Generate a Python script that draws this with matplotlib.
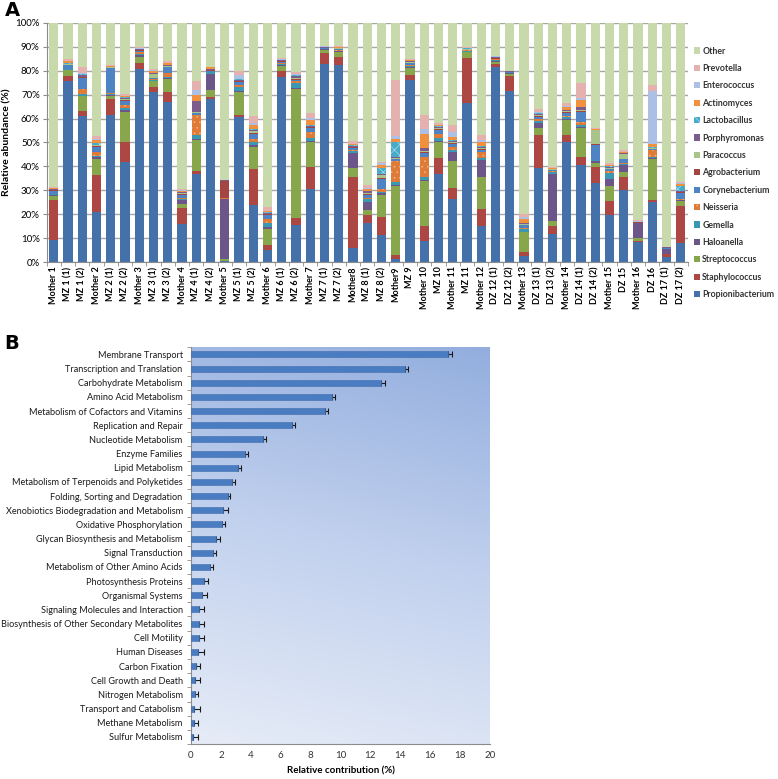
import numpy as np
import matplotlib.pyplot as plt
from matplotlib.ticker import FixedLocator, PercentFormatter
from matplotlib.colors import LinearSegmentedColormap

plt.rcParams['font.family'] = ['Lato', 'DejaVu Sans']
plt.rcParams['hatch.linewidth'] = 0.5

# ---------------------------------------------------------------- panel A data
samples = ['Mother 1', 'MZ 1 (1)', 'MZ 1 (2)', 'Mother 2', 'MZ 2 (1)', 'MZ 2 (2)',
           'Mother 3', 'MZ 3 (1)', 'MZ 3 (2)', 'Mother 4', 'MZ 4 (1)', 'MZ 4 (2)',
           'Mother 5', 'MZ 5 (1)', 'MZ 5 (2)', 'Mother 6', 'MZ 6 (1)', 'MZ 6 (2)',
           'Mother 7', 'MZ 7 (1)', 'MZ 7 (2)', 'Mother8', 'MZ 8 (1)', 'MZ 8 (2)',
           'Mother9', 'MZ 9', 'Mother 10', 'MZ 10', 'Mother 11', 'MZ 11',
           'Mother 12', 'DZ 12 (1)', 'DZ 12 (2)', 'Mother 13', 'DZ 13 (1)', 'DZ 13 (2)',
           'Mother 14', 'DZ 14 (1)', 'DZ 14 (2)', 'Mother 15', 'DZ 15', 'Mother 16',
           'DZ 16', 'DZ 17 (1)', 'DZ 17 (2)']

propionibacterium = [9.3, 75.8, 61.2, 21.0, 61.5, 42.0, 80.5, 71.0, 67.0, 16.0, 37.0, 68.0,
                     0.5, 60.5, 23.7, 5.0, 77.2, 15.6, 30.6, 82.6, 82.3, 5.8, 16.3, 11.4,
                     1.3, 76.1, 8.8, 36.7, 26.4, 66.3, 15.2, 81.6, 71.5, 2.8, 39.2, 11.7,
                     50.3, 40.6, 33.2, 19.7, 30.2, 8.3, 25.3, 2.4, 8.2]
staphylococcus = [16.5, 2.0, 1.9, 15.5, 6.6, 8.3, 2.8, 2.2, 4.0, 6.5, 1.0, 1.0,
                  0.1, 1.0, 15.3, 2.2, 2.6, 3.0, 9.2, 4.6, 3.5, 29.8, 3.4, 7.6,
                  1.7, 2.1, 6.2, 6.7, 4.8, 18.8, 6.9, 1.0, 6.2, 1.7, 13.9, 3.6,
                  2.8, 3.5, 6.4, 5.9, 5.5, 0.6, 0.7, 0.9, 15.3]
streptococcus = [1.9, 2.3, 6.2, 6.5, 1.2, 12.4, 2.2, 2.3, 5.5, 2.0, 13.0, 3.0,
                 0.8, 9.5, 9.0, 6.6, 2.1, 53.7, 10.5, 1.5, 2.1, 3.6, 2.1, 9.1,
                 29.0, 3.0, 19.0, 6.9, 11.2, 2.5, 13.6, 1.1, 1.0, 8.0, 2.8, 2.1,
                 6.3, 11.8, 2.0, 6.2, 2.1, 1.1, 17.1, 0.2, 2.1]
haloanella = [0.3, 0.2, 0.3, 0.8, 0.6, 0.8, 1.0, 0.3, 0.3, 1.5, 0.3, 6.5,
              25.1, 0.4, 1.0, 0.8, 0.5, 0.6, 0.5, 0.2, 0.2, 6.3, 3.5, 0.9,
              0.3, 0.4, 0.3, 0.3, 3.5, 0.3, 7.0, 0.2, 0.2, 0.3, 2.4, 19.3,
              0.5, 0.4, 0.6, 3.0, 2.8, 6.3, 0.4, 2.0, 0.3]
gemella = [0.4, 0.3, 0.5, 0.4, 0.4, 1.0, 0.5, 0.4, 0.4, 0.6, 1.7, 0.8,
           0.1, 1.6, 1.0, 1.7, 0.5, 1.8, 1.2, 0.2, 0.2, 0.8, 1.0, 0.3,
           1.4, 0.5, 1.2, 1.1, 1.0, 0.3, 1.0, 0.6, 0.2, 1.2, 0.8, 0.8,
           0.8, 0.8, 0.3, 2.5, 0.4, 0.1, 0.3, 0.1, 0.3]
neisseria = [0.2, 0.2, 2.3, 2.0, 0.2, 1.2, 0.6, 0.3, 1.8, 0.4, 8.5, 0.3,
             0.1, 0.8, 1.5, 1.7, 0.3, 0.9, 2.5, 0.1, 0.4, 0.6, 0.6, 1.1,
             8.7, 0.4, 8.5, 1.9, 1.2, 0.2, 2.2, 0.2, 0.1, 0.3, 0.6, 0.5,
             0.4, 1.6, 0.3, 0.6, 0.6, 0.1, 3.0, 0.1, 0.3]
corynebacterium = [1.2, 1.4, 4.5, 2.0, 10.4, 1.8, 0.5, 0.4, 2.3, 1.0, 0.6, 0.4,
                   0.1, 1.5, 2.0, 1.7, 0.4, 0.6, 1.5, 0.2, 0.4, 0.8, 1.0, 4.4,
                   0.7, 0.5, 1.8, 1.8, 1.2, 0.3, 1.0, 0.3, 0.2, 1.2, 1.1, 0.4,
                   1.4, 4.2, 6.2, 1.0, 1.4, 0.1, 0.3, 0.2, 2.5]
agrobacterium = [0.3, 0.2, 0.3, 0.3, 0.3, 0.3, 0.3, 0.2, 0.3, 0.3, 0.3, 0.2,
                 7.2, 0.2, 0.4, 0.3, 0.2, 0.3, 0.3, 0.1, 0.1, 0.3, 0.4, 0.3,
                 0.2, 0.2, 0.3, 0.3, 0.3, 0.1, 0.3, 0.1, 0.1, 0.2, 0.3, 0.2,
                 0.2, 0.3, 0.2, 0.2, 0.2, 0.1, 0.2, 0.1, 0.2]
paracoccus = [0.2, 0.3, 0.2, 0.3, 0.2, 0.4, 0.2, 1.5, 0.3, 0.5, 0.3, 0.2,
              0.1, 0.2, 0.8, 0.3, 0.2, 0.3, 0.3, 0.1, 0.1, 0.3, 0.8, 1.4,
              0.3, 0.3, 0.3, 0.4, 0.5, 0.2, 0.4, 0.2, 0.1, 0.3, 0.3, 0.2,
              0.3, 0.3, 5.8, 0.4, 2.0, 0.1, 0.3, 0.1, 0.3]
porphyromonas = [0.2, 0.2, 0.8, 0.3, 0.2, 0.3, 0.3, 0.3, 0.4, 0.4, 4.5, 0.2,
                 0.1, 0.5, 0.5, 0.3, 0.3, 1.0, 0.4, 0.1, 0.1, 0.4, 0.5, 0.3,
                 0.3, 0.3, 1.2, 0.4, 0.6, 0.2, 0.5, 0.2, 0.1, 0.3, 0.5, 0.2,
                 0.5, 1.1, 0.2, 0.3, 0.3, 0.1, 0.2, 0.1, 0.2]
lactobacillus = [0.1, 0.2, 0.2, 0.5, 0.1, 0.3, 0.1, 0.2, 0.2, 0.3, 0.3, 0.2,
                 0.0, 0.2, 0.3, 0.2, 0.1, 0.2, 0.2, 0.1, 0.1, 0.2, 0.3, 2.5,
                 6.2, 0.2, 0.3, 0.2, 0.4, 0.1, 0.3, 0.1, 0.0, 0.2, 0.2, 0.1,
                 0.2, 0.3, 0.1, 0.2, 0.2, 0.0, 0.2, 0.0, 2.0]
actinomyces = [0.2, 0.8, 0.3, 1.5, 0.2, 0.5, 0.2, 0.9, 0.5, 0.3, 2.3, 0.6,
               0.1, 0.3, 2.0, 0.4, 0.2, 0.3, 2.2, 0.2, 0.3, 0.4, 0.5, 1.4,
               1.3, 0.4, 5.8, 0.5, 1.0, 0.2, 1.8, 0.2, 0.1, 1.4, 0.4, 0.2,
               1.2, 2.8, 0.2, 0.4, 0.2, 0.1, 1.3, 0.1, 1.1]
enterococcus = [0.2, 0.3, 0.5, 0.3, 0.2, 0.3, 0.1, 0.2, 0.3, 0.2, 2.3, 0.1,
                0.0, 1.6, 0.6, 0.4, 0.1, 0.2, 1.0, 0.1, 0.1, 0.2, 0.8, 0.8,
                1.4, 0.2, 1.8, 0.3, 2.1, 0.1, 0.9, 0.1, 0.0, 1.1, 0.3, 0.1,
                0.4, 1.0, 0.1, 0.2, 0.2, 0.1, 22.3, 0.0, 0.4]
prevotella = [0.3, 0.7, 2.3, 1.3, 0.4, 0.7, 0.4, 0.3, 0.6, 0.5, 3.6, 0.2,
              0.1, 1.5, 3.0, 1.6, 0.5, 0.8, 2.0, 0.2, 0.3, 1.0, 1.0, 0.2,
              23.4, 0.4, 5.9, 0.5, 3.1, 0.3, 2.2, 0.3, 0.1, 1.0, 1.1, 0.4,
              1.0, 6.0, 0.6, 0.8, 0.9, 0.6, 2.4, 0.2, 0.5]
other = [68.7, 15.1, 18.5, 47.3, 17.5, 29.7, 10.3, 19.5, 16.1, 69.5, 24.3, 18.3,
         65.6, 20.2, 38.9, 76.8, 14.8, 20.7, 37.6, 9.7, 9.8, 49.5, 67.8, 58.3,
         23.8, 15.0, 38.6, 42.0, 42.7, 10.1, 46.7, 13.8, 20.1, 80.0, 36.1, 60.2,
         33.7, 25.3, 43.8, 58.6, 53.0, 82.3, 26.0, 93.5, 66.3]

genera = ['Propionibacterium', 'Staphylococcus', 'Streptococcus', 'Haloanella', 'Gemella',
          'Neisseria', 'Corynebacterium', 'Agrobacterium', 'Paracoccus', 'Porphyromonas',
          'Lactobacillus', 'Actinomyces', 'Enterococcus', 'Prevotella', 'Other']
series = [propionibacterium, staphylococcus, streptococcus, haloanella, gemella,
          neisseria, corynebacterium, agrobacterium, paracoccus, porphyromonas,
          lactobacillus, actinomyces, enterococcus, prevotella, other]
colors = ['#4571aa', '#ad4744', '#88a64c', '#6c5689', '#3a98b2',
          '#df7a37', '#4e84c4', '#a54542', '#a9c48b', '#7b5c8c',
          '#47abc8', '#f2913d', '#abc0e4', '#e4b1af', '#c8d9ac']
# subtle texture on two genera, hatch drawn in a lighter tint of the fill
hatches = [None, None, None, None, None, '...', None, None, None, None,
           'xxx', None, None, None, None]
hatch_cols = [None, None, None, None, None, '#f3b27f', None, None, None, None,
              '#a9dbe9', None, None, None, None]

# ---------------------------------------------------------------- panel B data
pathways = ['Membrane Transport', 'Transcription and Translation', 'Carbohydrate Metabolism',
            'Amino Acid Metabolism', 'Metabolism of Cofactors and Vitamins',
            'Replication and Repair', 'Nucleotide Metabolism', 'Enzyme Families',
            'Lipid Metabolism', 'Metabolism of Terpenoids and Polyketides',
            'Folding, Sorting and Degradation', 'Xenobiotics Biodegradation and Metabolism',
            'Oxidative Phosphorylation', 'Glycan Biosynthesis and Metabolism',
            'Signal Transduction', 'Metabolism of Other Amino Acids',
            'Photosynthesis Proteins', 'Organismal Systems',
            'Signaling Molecules and Interaction',
            'Biosynthesis of Other Secondary Metabolites', 'Cell Motility',
            'Human Diseases', 'Carbon Fixation', 'Cell Growth and Death',
            'Nitrogen Metabolism', 'Transport and Catabolism', 'Methane Metabolism',
            'Sulfur Metabolism']
contribution = [17.2, 14.3, 12.73, 9.45, 8.95, 6.73, 4.83, 3.6, 3.12, 2.72, 2.47, 2.16,
                2.05, 1.67, 1.45, 1.28, 0.87, 0.71, 0.55, 0.55, 0.55, 0.5, 0.35, 0.3,
                0.28, 0.22, 0.17, 0.15]
contribution_err = [0.25, 0.2, 0.25, 0.2, 0.2, 0.2, 0.2, 0.2, 0.2, 0.2, 0.15, 0.3,
                    0.25, 0.25, 0.2, 0.2, 0.3, 0.35, 0.3, 0.3, 0.3, 0.35, 0.27, 0.27,
                    0.22, 0.35, 0.3, 0.3]

fig = plt.figure(figsize=(7.78, 7.79), dpi=100)

# ---------------------------------------------------------------- panel A
axa = fig.add_axes([0.060, 0.6633, 0.824, 0.3076])
x = np.arange(len(samples))
bottom = np.zeros(len(samples))
handles = []
for name, vals, col, h, hc in zip(genera, series, colors, hatches, hatch_cols):
    vals = np.array(vals)
    bars = axa.bar(x, vals, bottom=bottom, width=0.65, color=col, label=name,
                   hatch=h, edgecolor=hc if h else col, linewidth=0)
    bottom += vals
    handles.append(bars)

axa.set_xlim(-0.5, len(samples) - 0.5)
axa.set_ylim(0, 100)
axa.yaxis.set_major_locator(FixedLocator(np.arange(0, 101, 10)))
axa.yaxis.set_major_formatter(PercentFormatter(decimals=0))
axa.grid(axis='y', color='#a6a6a6', linewidth=1.0)
axa.set_axisbelow(True)
axa.set_xticks(x)
axa.set_xticklabels(samples, rotation=90, fontsize=6.5, fontweight='bold')
axa.tick_params(axis='x', length=0, pad=3)
axa.xaxis.set_minor_locator(FixedLocator(np.arange(-0.5, len(samples), 1)))
axa.tick_params(axis='x', which='minor', length=3, color='#8c8c8c')
axa.tick_params(axis='y', labelsize=7, length=3, color='#8c8c8c', pad=2)
for s in ['top', 'right']:
    axa.spines[s].set_visible(False)
for s in ['left', 'bottom']:
    axa.spines[s].set_color('#8c8c8c')
axa.set_ylabel('Relative abundance (%)', fontsize=7.5, fontweight='bold', labelpad=3)

leg = axa.legend(handles[::-1], genera[::-1], loc='upper left',
                 bbox_to_anchor=(1.004, 0.915), frameon=False, fontsize=6.3,
                 handlelength=0.7, handleheight=0.7, handletextpad=0.25,
                 labelspacing=0.96, borderaxespad=0)
for t in leg.get_texts():
    t.set_fontweight('bold')
    t.set_color('#333333')

# ---------------------------------------------------------------- panel B
axb = fig.add_axes([0.2455, 0.0449, 0.3843, 0.5093])
cmap = LinearSegmentedColormap.from_list('bg', ['#e6ecf7', '#c2d1ee', '#93aede'])
gx, gy = np.meshgrid(np.linspace(0, 1, 200), np.linspace(0, 1, 200))
axb.imshow(0.85 * gy + 0.15 * gx, cmap=cmap, extent=(0, 1, 0, 1), origin='lower',
           aspect='auto', transform=axb.transAxes, zorder=0)

yb = np.arange(len(pathways))
axb.errorbar(contribution, yb, xerr=[np.zeros(len(pathways)), contribution_err],
             fmt='none', ecolor='#1a1a1a', elinewidth=0.8, capsize=2, capthick=0.8,
             zorder=2)
axb.barh(yb, contribution, height=0.42, color='#4a7cc1', edgecolor='#3f6cab',
         linewidth=0.4, zorder=3)
axb.set_xlim(0, 20)
axb.set_ylim(len(pathways) - 0.5, -0.5)
axb.set_xticks(np.arange(0, 21, 2))
axb.set_yticks(yb)
axb.set_yticklabels(pathways, fontsize=6.6, color='#1a1a1a')
axb.tick_params(axis='y', length=0, pad=6)
axb.yaxis.set_minor_locator(FixedLocator(np.arange(-0.5, len(pathways), 1)))
axb.tick_params(axis='y', which='minor', length=3, color='#8c8c8c')
axb.tick_params(axis='x', labelsize=7, length=0, pad=5, colors='#333333')
for s in ['top', 'right']:
    axb.spines[s].set_visible(False)
for s in ['left', 'bottom']:
    axb.spines[s].set_color('#8c8c8c')
axb.set_xlabel('Relative contribution (%)', fontsize=7, fontweight='bold', labelpad=5)

fig.text(0.006, 0.999, 'A', fontsize=14, fontweight='bold', va='top',
         family='DejaVu Sans')
fig.text(0.006, 0.571, 'B', fontsize=14, fontweight='bold', va='top',
         family='DejaVu Sans')

fig.savefig('out.png', dpi=100)
